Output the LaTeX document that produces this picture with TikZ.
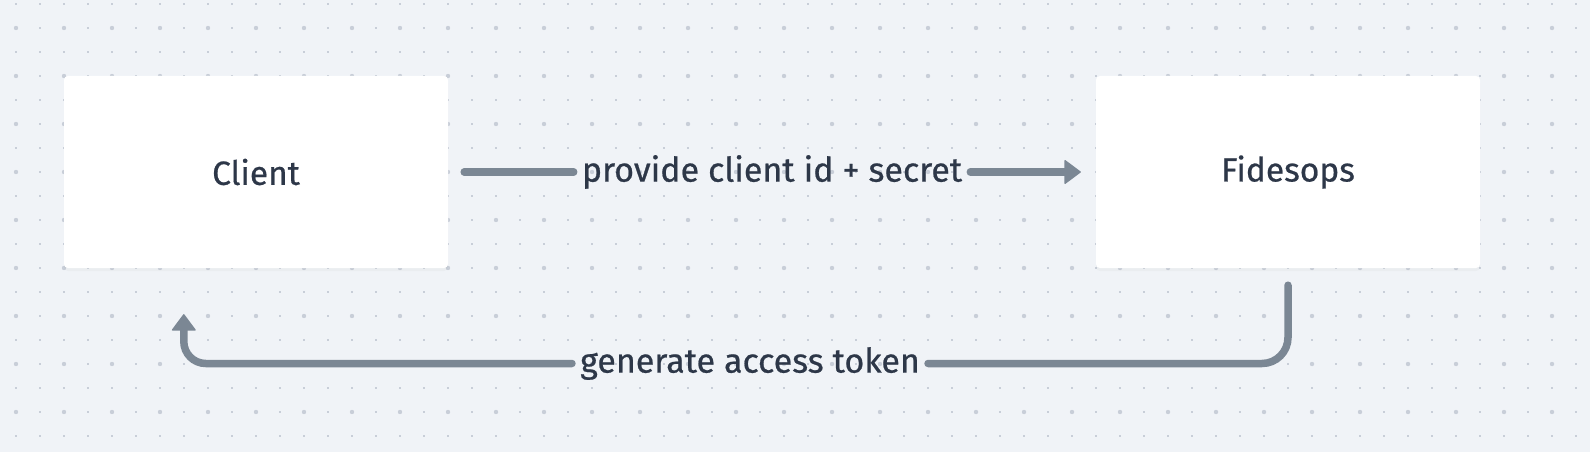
\documentclass[tikz,border=0pt]{standalone}
\usepackage{fontspec}
\setmainfont{Fira Sans}[FakeBold=0.6]
\usetikzlibrary{arrows.meta, positioning, calc, shadows}
\definecolor{canvasbg}{HTML}{F0F3F7}
\definecolor{dotgray}{HTML}{C8CED8}
\definecolor{linkgray}{HTML}{7B8794}
\definecolor{inkdark}{HTML}{2D3748}

\begin{document}
\begin{tikzpicture}[x=1pt, y=-1pt,
  box/.style={rectangle, fill=white, rounded corners=4pt, minimum width=384pt, minimum height=192pt, inner sep=0pt, font=\fontsize{33.5}{40}\selectfont, text=inkdark, drop shadow={opacity=0.05, shadow xshift=0pt, shadow yshift=-3pt}},
  lbl/.style={inner xsep=8pt, inner ysep=0pt, font=\fontsize{34}{40}\selectfont, text=inkdark},
  link/.style={draw=linkgray, line width=7.5pt, line cap=round},
  arrow/.style={-{Triangle[length=17pt, width=25pt, line width=1.5pt, round]}}
]
  % Canvas and dot grid
  \fill[canvasbg] (0,0) rectangle (1590,452);
  \foreach \i in {0,...,65}
    \foreach \j in {0,...,18}
      \fill[dotgray] (16+24*\i-1, 4+24*\j-1) rectangle ++(2,2);
  \foreach \i in {0,...,32}
    \foreach \j in {0,...,8}
      \fill[dotgray] (16+48*\i, 28+48*\j) circle (2.2);

  % Boxes
  \node[box] (client) at (256,172) {Client};
  \node[box] (fides) at (1288,172) {Fidesops};

  % Labels
  \node[lbl] (prov) at (772,172) {provide client id + secret};
  \node[lbl] (tok) at (750,363.5) {generate access token};
  \coordinate (ctip) at ($(client.south west)+(120,46)$);

  \draw[link, shorten <=16pt] (client) -- (prov);
  \draw[link, arrow, shorten >=15pt] (prov) -- (fides);
  \draw[link, rounded corners=26pt, shorten <=17pt] (fides.south) |- (tok.east);
  \draw[link, arrow, rounded corners=22pt] (tok.west) -| (ctip);
\end{tikzpicture}
\end{document}
